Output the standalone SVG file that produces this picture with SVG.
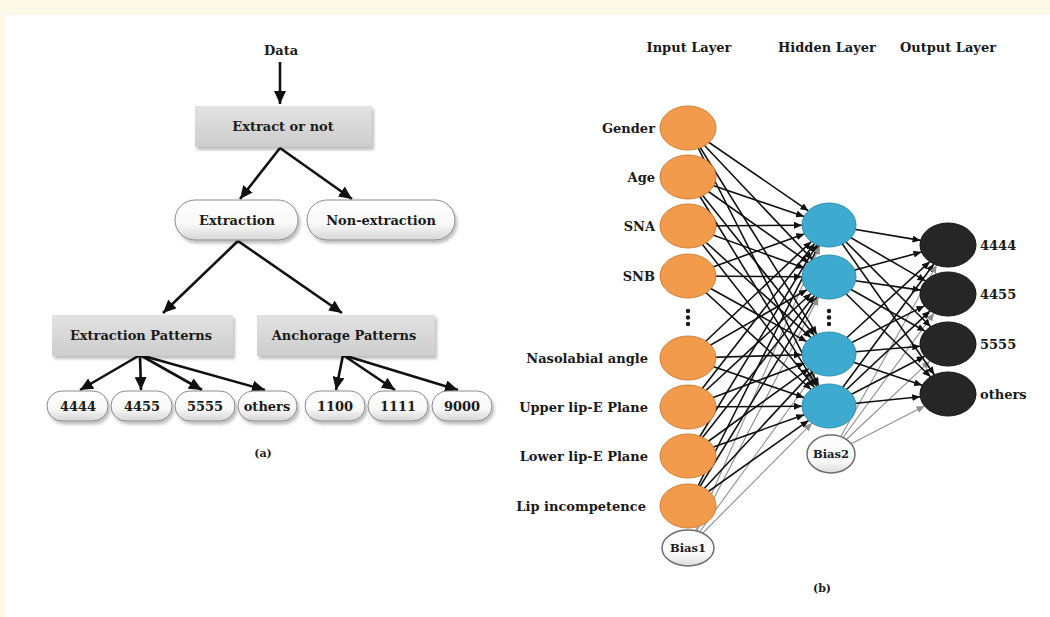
<svg xmlns="http://www.w3.org/2000/svg" width="1050" height="617" viewBox="0 0 1050 617">
<defs>
<style>
.t{font-family:"DejaVu Serif","Liberation Serif",serif;font-weight:bold;font-size:13px;fill:#1a1a1a}
.tc{text-anchor:middle}
.te{text-anchor:end}
.box{fill:url(#gBox);filter:url(#sh)}
.pill{fill:url(#gPill);stroke:#8a8a8a;stroke-width:1;filter:url(#sh)}
.ta{stroke:#111;stroke-width:2.6;fill:none;marker-end:url(#ah)}
.nl{stroke:#111;stroke-width:1.6;fill:none;marker-end:url(#nh)}
.bl{stroke:#8e8e8e;stroke-width:1.1;fill:none;marker-end:url(#nhg)}
.in{fill:#f29b4d;stroke:#cf7c35;stroke-width:1}
.hid{fill:#3faacf;stroke:#2d8fb2;stroke-width:1}
.out{fill:#262626;stroke:#111;stroke-width:1}
.bias{fill:url(#gBias);stroke:#6e6e6e;stroke-width:1.5}
.dot{fill:#1a1a1a}
</style>
<linearGradient id="gBox" x1="0" y1="0" x2="0" y2="1"><stop offset="0" stop-color="#e2e2e2"/><stop offset="1" stop-color="#cdcdcd"/></linearGradient>
<linearGradient id="gPill" x1="0" y1="0" x2="0" y2="1"><stop offset="0" stop-color="#ffffff"/><stop offset="0.6" stop-color="#f8f8f8"/><stop offset="1" stop-color="#d6d6d6"/></linearGradient>
<linearGradient id="gBias" x1="0" y1="0" x2="0" y2="1"><stop offset="0" stop-color="#ffffff"/><stop offset="0.7" stop-color="#f7f7f7"/><stop offset="1" stop-color="#dcdcdc"/></linearGradient>
<filter id="sh" x="-10%" y="-20%" width="125%" height="150%"><feDropShadow dx="2" dy="3" stdDeviation="1.5" flood-color="#000" flood-opacity="0.25"/></filter>
<marker id="ah" markerUnits="userSpaceOnUse" markerWidth="14" markerHeight="12" refX="13" refY="6" orient="auto"><path d="M0,0 L13,6 L0,12 z" fill="#111"/></marker>
<marker id="nh" markerUnits="userSpaceOnUse" markerWidth="9" markerHeight="7" refX="8" refY="3.5" orient="auto"><path d="M0,0 L8,3.5 L0,7 z" fill="#111"/></marker>
<marker id="nhg" markerUnits="userSpaceOnUse" markerWidth="9" markerHeight="7" refX="8" refY="3.5" orient="auto"><path d="M0,0 L8,3.5 L0,7 z" fill="#8e8e8e"/></marker>
</defs>

<rect x="0" y="0" width="1050" height="617" fill="#fdf9e8"/>
<rect x="6" y="15" width="1044" height="602" fill="#ffffff"/>

<!-- ===== (a) tree ===== -->
<g id="tree-connectors">
<line class="ta" x1="280" y1="62" x2="280" y2="104"/>
<line class="ta" x1="280" y1="148" x2="240" y2="199"/>
<line class="ta" x1="280" y1="148" x2="352" y2="199"/>
<line class="ta" x1="238" y1="241" x2="163" y2="313"/>
<line class="ta" x1="238" y1="241" x2="342" y2="313"/>
<line class="ta" x1="140" y1="355" x2="80" y2="390"/>
<line class="ta" x1="140" y1="355" x2="141" y2="390"/>
<line class="ta" x1="140" y1="355" x2="202" y2="390"/>
<line class="ta" x1="140" y1="355" x2="265" y2="390"/>
<line class="ta" x1="343" y1="355" x2="336" y2="390"/>
<line class="ta" x1="343" y1="355" x2="395" y2="390"/>
<line class="ta" x1="343" y1="355" x2="458" y2="390"/>
</g>

<g id="data"><text class="t tc" x="281" y="55">Data</text></g>
<g id="extract-or-not"><rect class="box" x="195" y="106" width="177" height="41"/><text class="t tc" x="283" y="131">Extract or not</text></g>
<g id="extraction"><rect class="pill" x="175" y="200" width="123" height="40" rx="20"/><text class="t tc" x="237" y="225">Extraction</text></g>
<g id="non-extraction"><rect class="pill" x="307" y="200" width="148" height="40" rx="20"/><text class="t tc" x="381" y="225">Non-extraction</text></g>
<g id="extraction-patterns"><rect class="box" x="52" y="315" width="181" height="41"/><text class="t tc" x="141" y="340">Extraction Patterns</text></g>
<g id="anchorage-patterns"><rect class="box" x="257" y="315" width="178" height="41"/><text class="t tc" x="344" y="340">Anchorage Patterns</text></g>
<g id="leaf-4444"><rect class="pill" x="47" y="391" width="61" height="30" rx="15"/><text class="t tc" x="78" y="411">4444</text></g>
<g id="leaf-4455"><rect class="pill" x="111" y="391" width="61" height="30" rx="15"/><text class="t tc" x="142" y="411">4455</text></g>
<g id="leaf-5555"><rect class="pill" x="175" y="391" width="60" height="30" rx="15"/><text class="t tc" x="205" y="411">5555</text></g>
<g id="leaf-others"><rect class="pill" x="238" y="391" width="59" height="30" rx="15"/><text class="t tc" x="267" y="411">others</text></g>
<g id="leaf-1100"><rect class="pill" x="305" y="391" width="60" height="30" rx="15"/><text class="t tc" x="335" y="411">1100</text></g>
<g id="leaf-1111"><rect class="pill" x="368" y="391" width="60" height="30" rx="15"/><text class="t tc" x="398" y="411">1111</text></g>
<g id="leaf-9000"><rect class="pill" x="432" y="391" width="60" height="30" rx="15"/><text class="t tc" x="462" y="411">9000</text></g>
<g id="caption-a"><text class="t tc" x="263" y="457" style="font-size:11px">(a)</text></g>

<!-- ===== (b) network ===== -->
<g id="titles">
<text class="t tc" x="689" y="52">Input Layer</text>
<text class="t tc" x="827" y="52">Hidden Layer</text>
<text class="t tc" x="948" y="52">Output Layer</text>
</g>

<g id="net-connectors">
<!-- input -> H1 -->
<line class="nl" x1="688" y1="128" x2="808.4" y2="210.8"/>
<line class="nl" x1="688" y1="177" x2="804.1" y2="216.5"/>
<line class="nl" x1="688" y1="226" x2="802" y2="225.2"/>
<line class="nl" x1="688" y1="276" x2="804.3" y2="233.9"/>
<line class="nl" x1="688" y1="358" x2="811.3" y2="241.6"/>
<line class="nl" x1="688" y1="407" x2="814.6" y2="243.6"/>
<line class="nl" x1="688" y1="456" x2="817" y2="244.7"/>
<line class="nl" x1="688" y1="506" x2="818.8" y2="245.4"/>
<line class="bl" x1="688" y1="548" x2="819.9" y2="245.7"/>
<!-- input -> H2 -->
<line class="nl" x1="688" y1="128" x2="812.5" y2="259.6"/>
<line class="nl" x1="688" y1="177" x2="808.6" y2="262.6"/>
<line class="nl" x1="688" y1="226" x2="804.3" y2="268.1"/>
<line class="nl" x1="688" y1="276" x2="802" y2="276.8"/>
<line class="nl" x1="688" y1="358" x2="806.9" y2="289.7"/>
<line class="nl" x1="688" y1="407" x2="811.1" y2="293.5"/>
<line class="nl" x1="688" y1="456" x2="814.4" y2="295.5"/>
<line class="nl" x1="688" y1="506" x2="816.9" y2="296.7"/>
<line class="bl" x1="688" y1="548" x2="818.5" y2="297.2"/>
<!-- input -> H3 -->
<line class="nl" x1="688" y1="128" x2="816.8" y2="334.4"/>
<line class="nl" x1="688" y1="177" x2="814.3" y2="335.5"/>
<line class="nl" x1="688" y1="226" x2="811" y2="337.6"/>
<line class="nl" x1="688" y1="276" x2="806.7" y2="341.6"/>
<line class="nl" x1="688" y1="358" x2="802" y2="354.8"/>
<line class="nl" x1="688" y1="407" x2="804.5" y2="363.2"/>
<line class="nl" x1="688" y1="456" x2="808.8" y2="368.6"/>
<line class="nl" x1="688" y1="506" x2="812.7" y2="371.6"/>
<line class="bl" x1="688" y1="548" x2="815.2" y2="372.9"/>
<!-- input -> H4 -->
<line class="nl" x1="688" y1="128" x2="818.7" y2="385.7"/>
<line class="nl" x1="688" y1="177" x2="816.9" y2="386.3"/>
<line class="nl" x1="688" y1="226" x2="814.5" y2="387.5"/>
<line class="nl" x1="688" y1="276" x2="811.1" y2="389.5"/>
<line class="nl" x1="688" y1="358" x2="804.1" y2="397.5"/>
<line class="nl" x1="688" y1="407" x2="802" y2="406.2"/>
<line class="nl" x1="688" y1="456" x2="804.2" y2="414.8"/>
<line class="nl" x1="688" y1="506" x2="808.6" y2="420.4"/>
<line class="bl" x1="688" y1="548" x2="812" y2="423.1"/>
<!-- hidden -> O1 -->
<line class="nl" x1="829" y1="225" x2="920.6" y2="240.4"/>
<line class="nl" x1="829" y1="277" x2="921.5" y2="252.1"/>
<line class="nl" x1="829" y1="354" x2="929.8" y2="261.7"/>
<line class="nl" x1="829" y1="406" x2="933.9" y2="264"/>
<line class="bl" x1="831" y1="454" x2="936.7" y2="265.1"/>
<!-- hidden -> O2 -->
<line class="nl" x1="829" y1="225" x2="925.5" y2="280.9"/>
<line class="nl" x1="829" y1="277" x2="920.5" y2="290.1"/>
<line class="nl" x1="829" y1="354" x2="924.4" y2="305.9"/>
<line class="nl" x1="829" y1="406" x2="930.1" y2="310.9"/>
<line class="bl" x1="831" y1="454" x2="934.1" y2="313.1"/>
<!-- hidden -> O3 -->
<line class="nl" x1="829" y1="225" x2="930.7" y2="326.7"/>
<line class="nl" x1="829" y1="277" x2="925.2" y2="331.2"/>
<line class="nl" x1="829" y1="354" x2="920.2" y2="346.3"/>
<line class="nl" x1="829" y1="406" x2="924.7" y2="356.2"/>
<line class="bl" x1="831" y1="454" x2="930" y2="360.9"/>
<!-- hidden -> O4 -->
<line class="nl" x1="829" y1="225" x2="934.4" y2="374.7"/>
<line class="nl" x1="829" y1="277" x2="930.5" y2="376.8"/>
<line class="nl" x1="829" y1="354" x2="922.2" y2="385.3"/>
<line class="nl" x1="829" y1="406" x2="920.2" y2="396.8"/>
<line class="bl" x1="831" y1="454" x2="924.6" y2="406"/>
</g>

<g id="in-gender"><ellipse class="in" cx="688" cy="128" rx="28" ry="22"/><text class="t te" x="655" y="133">Gender</text></g>
<g id="in-age"><ellipse class="in" cx="688" cy="177" rx="28" ry="22"/><text class="t te" x="655" y="182">Age</text></g>
<g id="in-sna"><ellipse class="in" cx="688" cy="226" rx="28" ry="22"/><text class="t te" x="655" y="231">SNA</text></g>
<g id="in-snb"><ellipse class="in" cx="688" cy="276" rx="28" ry="22"/><text class="t te" x="655" y="281">SNB</text></g>
<g id="in-dots"><circle class="dot" cx="688" cy="311" r="2.2"/><circle class="dot" cx="688" cy="317.5" r="2.2"/><circle class="dot" cx="688" cy="324" r="2.2"/></g>
<g id="in-nasolabial"><ellipse class="in" cx="688" cy="358" rx="28" ry="22"/><text class="t te" x="648" y="363">Nasolabial angle</text></g>
<g id="in-upper"><ellipse class="in" cx="688" cy="407" rx="28" ry="22"/><text class="t te" x="648" y="412">Upper lip-E Plane</text></g>
<g id="in-lower"><ellipse class="in" cx="688" cy="456" rx="28" ry="22"/><text class="t te" x="648" y="461">Lower lip-E Plane</text></g>
<g id="in-lip"><ellipse class="in" cx="688" cy="506" rx="28" ry="22"/><text class="t te" x="646" y="511">Lip incompetence</text></g>
<g id="bias1"><ellipse class="bias" cx="688" cy="548" rx="26" ry="18"/><text class="t tc" x="688" y="552" style="font-size:11.5px">Bias1</text></g>

<g id="hid-1"><ellipse class="hid" cx="829" cy="225" rx="27" ry="22"/></g>
<g id="hid-2"><ellipse class="hid" cx="829" cy="277" rx="27" ry="22"/></g>
<g id="hid-dots"><circle class="dot" cx="829" cy="311" r="2.2"/><circle class="dot" cx="829" cy="317.5" r="2.2"/><circle class="dot" cx="829" cy="324" r="2.2"/></g>
<g id="hid-3"><ellipse class="hid" cx="829" cy="354" rx="27" ry="22"/></g>
<g id="hid-4"><ellipse class="hid" cx="829" cy="406" rx="27" ry="22"/></g>
<g id="bias2"><ellipse class="bias" cx="831" cy="454" rx="24" ry="19"/><text class="t tc" x="831" y="458" style="font-size:11.5px">Bias2</text></g>

<g id="out-4444"><ellipse class="out" cx="948" cy="245" rx="28" ry="22"/><text class="t" x="980" y="250">4444</text></g>
<g id="out-4455"><ellipse class="out" cx="948" cy="294" rx="28" ry="22"/><text class="t" x="980" y="299">4455</text></g>
<g id="out-5555"><ellipse class="out" cx="948" cy="344" rx="28" ry="22"/><text class="t" x="980" y="349">5555</text></g>
<g id="out-others"><ellipse class="out" cx="948" cy="394" rx="28" ry="22"/><text class="t" x="980" y="399">others</text></g>

<g id="caption-b"><text class="t tc" x="822" y="592" style="font-size:11px">(b)</text></g>
</svg>
